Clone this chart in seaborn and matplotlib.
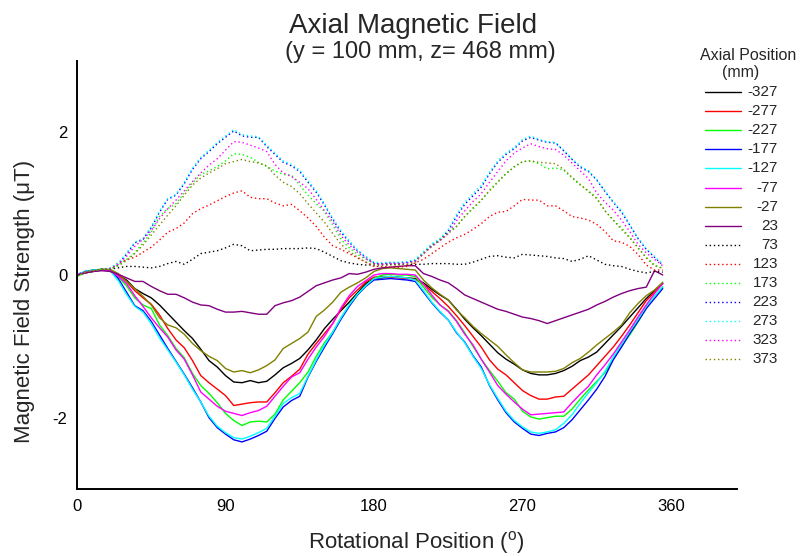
import numpy as np
import pandas as pd
import matplotlib
matplotlib.use("Agg")
import matplotlib.pyplot as plt
from matplotlib.lines import Line2D
import seaborn as sns

# ---------------- data ----------------
angles = list(range(0, 360, 5))

positions = ["-327", "-277", "-227", "-177", "-127", "-77", "-27", "23",
             "73", "123", "173", "223", "273", "323", "373"]

p_m327 = [0.0, 0.03, 0.05, 0.07, 0.07, 0.0, -0.07, -0.19, -0.26, -0.32, -0.42, -0.54, -0.66, -0.78, -0.89, -1.04, -1.2, -1.29,
          -1.41, -1.5, -1.51, -1.48, -1.51, -1.49, -1.40, -1.30, -1.24, -1.17, -1.05, -0.91, -0.75, -0.62, -0.50, -0.38, -0.25, -0.12,
          -0.05, -0.04, -0.02, -0.03, -0.04, -0.05, -0.11, -0.20, -0.28, -0.35, -0.48, -0.62, -0.74, -0.85, -0.97, -1.09, -1.18, -1.25,
          -1.33, -1.38, -1.40, -1.40, -1.38, -1.34, -1.28, -1.20, -1.15, -1.08, -0.96, -0.84, -0.72, -0.59, -0.46, -0.33, -0.22, -0.12]
p_m277 = [0.0, 0.03, 0.06, 0.08, 0.07, 0.0, -0.09, -0.22, -0.32, -0.41, -0.56, -0.75, -0.91, -1.02, -1.2, -1.41, -1.51, -1.60,
          -1.69, -1.83, -1.81, -1.79, -1.78, -1.78, -1.65, -1.51, -1.42, -1.32, -1.11, -0.96, -0.82, -0.68, -0.48, -0.32, -0.21, -0.10,
          -0.03, -0.02, -0.03, -0.04, -0.05, -0.06, -0.13, -0.23, -0.33, -0.44, -0.57, -0.71, -0.86, -1.01, -1.19, -1.32, -1.40, -1.51,
          -1.62, -1.69, -1.74, -1.74, -1.71, -1.70, -1.60, -1.50, -1.40, -1.27, -1.14, -1.01, -0.86, -0.70, -0.53, -0.36, -0.24, -0.12]
p_m227 = [-0.02, 0.04, 0.07, 0.08, 0.07, -0.03, -0.15, -0.32, -0.42, -0.47, -0.70, -0.85, -1.03, -1.16, -1.38, -1.55, -1.66, -1.79,
          -1.94, -2.04, -2.11, -2.06, -2.05, -2.06, -1.95, -1.75, -1.63, -1.51, -1.36, -1.14, -0.95, -0.80, -0.60, -0.42, -0.27, -0.15,
          -0.05, 0.0, 0.01, 0.0, 0.0, -0.02, -0.17, -0.31, -0.42, -0.50, -0.64, -0.81, -1.0, -1.18, -1.34, -1.49, -1.65, -1.74,
          -1.91, -1.99, -2.02, -2.0, -1.98, -1.98, -1.88, -1.74, -1.61, -1.49, -1.37, -1.18, -1.0, -0.84, -0.66, -0.47, -0.30, -0.17]
p_m177 = [0.0, 0.05, 0.07, 0.07, 0.07, -0.05, -0.24, -0.43, -0.50, -0.65, -0.84, -1.03, -1.21, -1.39, -1.58, -1.78, -2.0, -2.14,
          -2.23, -2.31, -2.34, -2.30, -2.25, -2.19, -2.01, -1.85, -1.76, -1.70, -1.43, -1.21, -1.01, -0.82, -0.62, -0.44, -0.28, -0.16,
          -0.07, -0.06, -0.05, -0.06, -0.07, -0.09, -0.24, -0.39, -0.52, -0.63, -0.81, -0.94, -1.13, -1.29, -1.55, -1.75, -1.93, -2.06,
          -2.15, -2.23, -2.25, -2.22, -2.20, -2.14, -2.03, -1.89, -1.75, -1.60, -1.42, -1.19, -1.01, -0.82, -0.65, -0.47, -0.33, -0.19]
p_m127 = [0.01, 0.05, 0.07, 0.08, 0.06, -0.08, -0.27, -0.44, -0.52, -0.68, -0.88, -1.05, -1.22, -1.40, -1.60, -1.78, -1.98, -2.12,
          -2.21, -2.28, -2.30, -2.26, -2.21, -2.15, -1.98, -1.80, -1.72, -1.66, -1.42, -1.19, -0.98, -0.80, -0.60, -0.42, -0.27, -0.15,
          -0.05, -0.03, -0.02, -0.03, -0.04, -0.07, -0.22, -0.38, -0.51, -0.63, -0.80, -0.95, -1.14, -1.31, -1.54, -1.73, -1.91, -2.04,
          -2.13, -2.20, -2.22, -2.20, -2.17, -2.08, -1.96, -1.80, -1.65, -1.51, -1.35, -1.15, -0.97, -0.79, -0.62, -0.44, -0.30, -0.16]
p_m77 = [0.01, 0.04, 0.06, 0.07, 0.06, -0.02, -0.12, -0.29, -0.44, -0.60, -0.74, -0.87, -1.05, -1.18, -1.40, -1.64, -1.74, -1.84,
         -1.91, -1.94, -1.97, -1.93, -1.90, -1.84, -1.70, -1.56, -1.43, -1.37, -1.18, -1.01, -0.86, -0.68, -0.46, -0.29, -0.16, -0.08,
         0.0, 0.02, 0.02, 0.01, 0.01, 0.0, -0.13, -0.28, -0.42, -0.51, -0.65, -0.83, -0.98, -1.18, -1.36, -1.55, -1.67, -1.78,
         -1.88, -1.96, -1.95, -1.94, -1.93, -1.92, -1.79, -1.67, -1.56, -1.40, -1.26, -1.11, -0.94, -0.77, -0.59, -0.42, -0.26, -0.12]
p_m27 = [-0.01, 0.03, 0.06, 0.08, 0.08, 0.02, -0.09, -0.19, -0.30, -0.42, -0.60, -0.70, -0.74, -0.83, -0.96, -1.06, -1.14, -1.20,
         -1.31, -1.36, -1.34, -1.37, -1.33, -1.27, -1.19, -1.03, -0.96, -0.89, -0.80, -0.58, -0.49, -0.38, -0.24, -0.17, -0.11, -0.04,
         0.05, 0.09, 0.10, 0.09, 0.08, 0.07, -0.07, -0.18, -0.27, -0.35, -0.49, -0.60, -0.72, -0.82, -0.91, -1.0, -1.12, -1.23,
         -1.33, -1.36, -1.36, -1.36, -1.35, -1.31, -1.23, -1.17, -1.08, -0.98, -0.89, -0.80, -0.70, -0.53, -0.40, -0.29, -0.21, -0.10]
p_23 = [0.0, 0.03, 0.05, 0.06, 0.05, 0.01, -0.04, -0.09, -0.09, -0.16, -0.22, -0.27, -0.27, -0.32, -0.38, -0.42, -0.43, -0.48,
        -0.52, -0.52, -0.51, -0.53, -0.55, -0.55, -0.43, -0.39, -0.36, -0.31, -0.23, -0.15, -0.11, -0.07, -0.04, 0.02, 0.01, 0.04,
        0.08, 0.10, 0.11, 0.12, 0.13, 0.13, 0.02, -0.02, -0.07, -0.11, -0.19, -0.28, -0.33, -0.38, -0.43, -0.48, -0.51, -0.55,
        -0.59, -0.61, -0.64, -0.68, -0.64, -0.60, -0.56, -0.52, -0.48, -0.42, -0.37, -0.31, -0.26, -0.22, -0.19, -0.17, 0.06, 0.0]
p_73 = [0.0, 0.04, 0.06, 0.08, 0.08, 0.10, 0.12, 0.12, 0.11, 0.10, 0.12, 0.16, 0.19, 0.15, 0.22, 0.30, 0.32, 0.34,
        0.38, 0.43, 0.41, 0.34, 0.35, 0.36, 0.36, 0.37, 0.37, 0.37, 0.38, 0.37, 0.32, 0.26, 0.20, 0.17, 0.15, 0.14,
        0.14, 0.15, 0.15, 0.15, 0.15, 0.15, 0.15, 0.16, 0.16, 0.16, 0.15, 0.15, 0.18, 0.22, 0.26, 0.27, 0.25, 0.24,
        0.29, 0.28, 0.27, 0.26, 0.24, 0.23, 0.19, 0.22, 0.27, 0.21, 0.15, 0.13, 0.12, 0.08, 0.05, 0.03, 0.05, 0.04]
p_123 = [0.0, 0.04, 0.06, 0.08, 0.09, 0.17, 0.21, 0.25, 0.32, 0.39, 0.49, 0.60, 0.65, 0.73, 0.86, 0.93, 0.98, 1.04,
         1.10, 1.15, 1.18, 1.09, 1.07, 1.07, 1.01, 0.97, 0.99, 0.90, 0.80, 0.68, 0.53, 0.41, 0.36, 0.30, 0.24, 0.18,
         0.12, 0.12, 0.11, 0.11, 0.12, 0.17, 0.22, 0.30, 0.38, 0.46, 0.52, 0.57, 0.64, 0.72, 0.82, 0.88, 0.89, 0.97,
         1.06, 1.05, 1.05, 0.97, 0.97, 0.90, 0.82, 0.80, 0.77, 0.71, 0.61, 0.48, 0.46, 0.40, 0.29, 0.14, 0.07, 0.07]
p_173 = [-0.03, 0.05, 0.07, 0.08, 0.08, 0.14, 0.22, 0.31, 0.45, 0.60, 0.82, 0.93, 1.0, 1.15, 1.29, 1.41, 1.46, 1.52,
         1.60, 1.70, 1.69, 1.65, 1.58, 1.52, 1.46, 1.41, 1.40, 1.26, 1.12, 1.0, 0.89, 0.70, 0.50, 0.38, 0.29, 0.22,
         0.16, 0.16, 0.17, 0.17, 0.18, 0.20, 0.32, 0.41, 0.50, 0.60, 0.68, 0.82, 0.93, 1.04, 1.19, 1.31, 1.42, 1.51,
         1.59, 1.60, 1.56, 1.49, 1.50, 1.47, 1.36, 1.26, 1.18, 1.08, 0.90, 0.77, 0.66, 0.53, 0.38, 0.25, 0.14, 0.10]
p_223 = [0.0, 0.05, 0.07, 0.08, 0.09, 0.15, 0.29, 0.45, 0.50, 0.66, 0.88, 1.06, 1.12, 1.28, 1.48, 1.63, 1.73, 1.84,
         1.93, 2.02, 1.95, 1.93, 1.93, 1.80, 1.69, 1.58, 1.53, 1.45, 1.30, 1.16, 0.98, 0.78, 0.60, 0.46, 0.34, 0.25,
         0.17, 0.16, 0.17, 0.17, 0.18, 0.20, 0.30, 0.42, 0.49, 0.62, 0.82, 0.99, 1.11, 1.23, 1.42, 1.58, 1.69, 1.77,
         1.88, 1.93, 1.89, 1.86, 1.85, 1.74, 1.62, 1.51, 1.45, 1.33, 1.17, 1.02, 0.88, 0.70, 0.51, 0.36, 0.25, 0.14]
p_273 = [0.01, 0.05, 0.07, 0.08, 0.10, 0.17, 0.31, 0.46, 0.51, 0.68, 0.90, 1.07, 1.13, 1.30, 1.50, 1.65, 1.75, 1.86,
         1.95, 2.04, 1.97, 1.95, 1.94, 1.82, 1.71, 1.60, 1.55, 1.47, 1.32, 1.18, 1.0, 0.80, 0.62, 0.48, 0.35, 0.26,
         0.18, 0.17, 0.18, 0.18, 0.19, 0.22, 0.33, 0.44, 0.51, 0.64, 0.85, 1.02, 1.14, 1.26, 1.44, 1.60, 1.71, 1.79,
         1.90, 1.95, 1.90, 1.87, 1.86, 1.75, 1.63, 1.53, 1.46, 1.34, 1.18, 1.03, 0.90, 0.71, 0.52, 0.37, 0.26, 0.15]
p_323 = [0.0, 0.04, 0.06, 0.08, 0.09, 0.15, 0.26, 0.40, 0.50, 0.62, 0.79, 0.93, 1.05, 1.18, 1.31, 1.43, 1.54, 1.63,
         1.75, 1.87, 1.86, 1.82, 1.78, 1.73, 1.55, 1.43, 1.38, 1.30, 1.21, 1.06, 0.90, 0.75, 0.55, 0.42, 0.32, 0.23,
         0.16, 0.15, 0.16, 0.16, 0.17, 0.19, 0.30, 0.40, 0.48, 0.58, 0.76, 0.90, 1.03, 1.14, 1.30, 1.45, 1.60, 1.71,
         1.78, 1.84, 1.80, 1.77, 1.76, 1.68, 1.57, 1.46, 1.35, 1.15, 1.02, 0.91, 0.77, 0.61, 0.43, 0.31, 0.22, 0.13]
p_373 = [-0.01, 0.04, 0.06, 0.08, 0.08, 0.13, 0.20, 0.30, 0.42, 0.56, 0.70, 0.84, 0.97, 1.12, 1.26, 1.36, 1.43, 1.49,
         1.56, 1.59, 1.62, 1.59, 1.57, 1.53, 1.40, 1.30, 1.24, 1.14, 1.0, 0.87, 0.74, 0.58, 0.43, 0.33, 0.25, 0.18,
         0.13, 0.13, 0.14, 0.14, 0.15, 0.18, 0.30, 0.40, 0.49, 0.58, 0.68, 0.82, 0.94, 1.05, 1.18, 1.30, 1.42, 1.52,
         1.59, 1.60, 1.58, 1.57, 1.56, 1.48, 1.37, 1.27, 1.17, 1.07, 0.90, 0.77, 0.64, 0.52, 0.38, 0.24, 0.13, 0.09]

series = [p_m327, p_m277, p_m227, p_m177, p_m127, p_m77, p_m27, p_23,
          p_73, p_123, p_173, p_223, p_273, p_323, p_373]

colors = ["#000000", "#ff0000", "#00ff00", "#0000ff", "#00ffff", "#ff00ff", "#808000", "#800080",
          "#000000", "#ff0000", "#00ff00", "#0000ff", "#00ffff", "#ff00ff", "#808000"]
dotted = [False] * 8 + [True] * 7

x_ticks = [0, 90, 180, 270, 360]
x_minor = [45, 135, 225, 315]
y_ticks = [-3, -2, 0, 2, 3]
y_ticklabels = ["", "-2", "0", "2", ""]
y_minor = [-1, 1]

# ---------------- build data frame ----------------
rows = []
for lab, vals in zip(positions, series):
    for a, v in zip(angles, vals):
        rows.append((a, v, lab))
df = pd.DataFrame(rows, columns=["angle", "field", "position"])

# ---------------- style ----------------
sns.set_style("white")
plt.rcParams["font.family"] = ["Liberation Sans", "DejaVu Sans"]
plt.rcParams["mathtext.fontset"] = "custom"
plt.rcParams["mathtext.rm"] = "Liberation Sans"
plt.rcParams["axes.unicode_minus"] = False

W, H = 803, 556
fig = plt.figure(figsize=(W / 100, H / 100), dpi=100)
ax = fig.add_axes([77 / W, 1 - 489 / H, 660 / W, 428 / H])

dash_map = {lab: ((1, 2) if d else "") for lab, d in zip(positions, dotted)}
sns.lineplot(data=df, x="angle", y="field", hue="position", hue_order=positions,
             palette=colors, style="position", style_order=positions, dashes=dash_map,
             linewidth=1.0, estimator=None, sort=False, legend=False, ax=ax)

ax.set_xlim(0, 400)
ax.set_ylim(-3, 3)
ax.set_xticks(x_ticks)
ax.set_xticks(x_minor, minor=True)
ax.set_yticks(y_ticks)
ax.set_yticklabels(y_ticklabels)
ax.set_yticks(y_minor, minor=True)
ax.set_xlabel("")
ax.set_ylabel("")
ax.tick_params(which="major", direction="in", length=6, width=1.2, labelsize=12, pad=7, colors="black")
ax.tick_params(which="minor", direction="in", length=3.5, width=1.2)
for s in ["top", "right"]:
    ax.spines[s].set_visible(False)
for s in ["left", "bottom"]:
    ax.spines[s].set_linewidth(1.4)
    ax.spines[s].set_color("black")

# ---------------- titles / labels ----------------
fig.text(413 / W, 1 - 33 / H, "Axial Magnetic Field", ha="center", va="baseline", fontsize=20)
fig.text(420 / W, 1 - 58 / H, "(y = 100 mm, z= 468 mm)", ha="center", va="baseline", fontsize=17)
fig.text(416 / W, 1 - 548 / H, r"Rotational Position ($^{\rm o}$)", ha="center", va="baseline", fontsize=16)
fig.text(25 / W, 1 - 301 / H, "Magnetic Field Strength (\u03bcT)", ha="center", va="center",
         rotation=90, fontsize=16)

# ---------------- legend (drawn as a key box at the right) ----------------
fig.text(748 / W, 1 - 55 / H, "Axial Position", ha="center", va="center", fontsize=11.5)
fig.text(741 / W, 1 - 73 / H, "(mm)", ha="center", va="center", fontsize=11.5)
row0, row_step = 92.0, 19.1
for i, (lab, c, d) in enumerate(zip(positions, colors, dotted)):
    yy = 1 - (row0 + i * row_step) / H
    fig.add_artist(Line2D([705 / W, 741 / W], [yy, yy], transform=fig.transFigure,
                          color=c, lw=1.0, linestyle=((0, (1, 2)) if d else "-")))
    fig.text(778 / W, yy, lab, ha="right", va="center", fontsize=11)

fig.savefig("out.png", dpi=100, facecolor="white")
